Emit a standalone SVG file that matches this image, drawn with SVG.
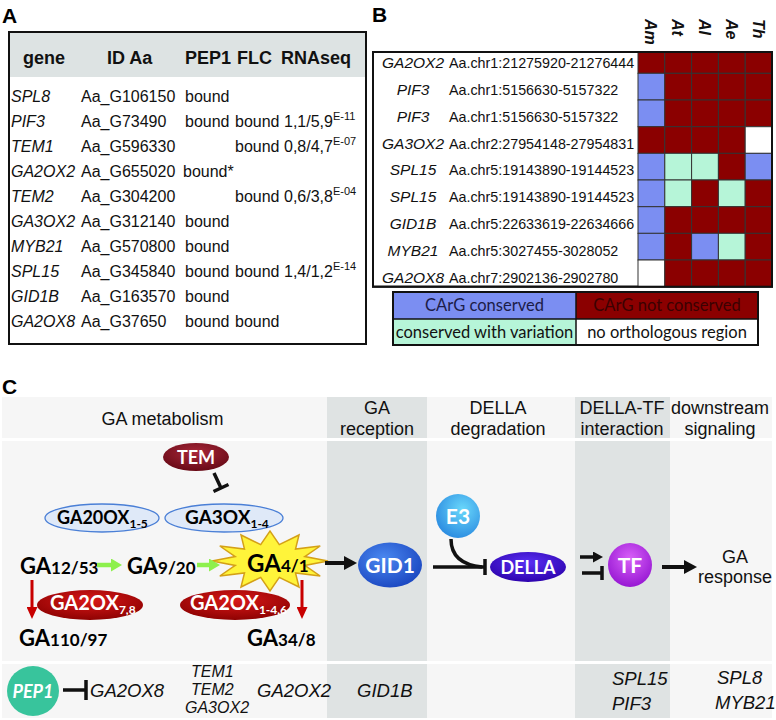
<svg xmlns="http://www.w3.org/2000/svg" width="776" height="720" viewBox="0 0 776 720">
<defs>
<radialGradient id="gTem" cx="50%" cy="35%" r="65%"><stop offset="0" stop-color="#a8283a"/><stop offset="1" stop-color="#680a16"/></radialGradient>
<radialGradient id="gRed" cx="50%" cy="35%" r="65%"><stop offset="0" stop-color="#d81818"/><stop offset="1" stop-color="#8e0202"/></radialGradient>
<radialGradient id="gGid" cx="40%" cy="35%" r="70%"><stop offset="0" stop-color="#4a88f0"/><stop offset="1" stop-color="#1a46c0"/></radialGradient>
<radialGradient id="gE3" cx="60%" cy="35%" r="70%"><stop offset="0" stop-color="#6ad8fb"/><stop offset="1" stop-color="#2a8ae0"/></radialGradient>
<radialGradient id="gDella" cx="50%" cy="35%" r="70%"><stop offset="0" stop-color="#5a30f4"/><stop offset="1" stop-color="#2a00a8"/></radialGradient>
<radialGradient id="gTf" cx="50%" cy="35%" r="70%"><stop offset="0" stop-color="#d860f8"/><stop offset="1" stop-color="#9212d0"/></radialGradient>
<marker id="ahK" markerUnits="userSpaceOnUse" markerWidth="13" markerHeight="14" viewBox="0 0 13 14" refX="1" refY="7" orient="auto"><path d="M0,0 L13,7 L0,14 z" fill="#111"/></marker>
<marker id="ahKs" markerUnits="userSpaceOnUse" markerWidth="10" markerHeight="11" viewBox="0 0 10 11" refX="1" refY="5.5" orient="auto"><path d="M0,0 L10,5.5 L0,11 z" fill="#111"/></marker>
<marker id="ahG" markerUnits="userSpaceOnUse" markerWidth="11" markerHeight="13" viewBox="0 0 11 13" refX="1" refY="6.5" orient="auto"><path d="M0,0 L11,6.5 L0,13 z" fill="#8df04d"/></marker>
<marker id="ahR" markerUnits="userSpaceOnUse" markerWidth="12" markerHeight="11" viewBox="0 0 12 11" refX="1" refY="5.5" orient="auto"><path d="M0,0 L12,5.5 L0,11 z" fill="#c80000"/></marker>
</defs>
<style>
.lab{font-family:"Liberation Sans",Arial,sans-serif;font-weight:bold;font-size:21px;fill:#000}
.th{font-family:"Liberation Sans",Arial,sans-serif;font-weight:bold;font-size:18px;fill:#111}
.td{font-family:"Liberation Sans",Arial,sans-serif;font-size:16px;fill:#111}
.gi{font-style:italic}
.sup{font-size:11px}
.bg{font-family:"Liberation Sans",Arial,sans-serif;font-size:15.5px;font-style:italic;text-anchor:middle;fill:#111}
.bc{font-family:"Liberation Sans",Arial,sans-serif;font-size:14.3px;fill:#111}
.sp{font-family:"Liberation Sans",Arial,sans-serif;font-size:16px;font-style:italic;font-weight:bold;fill:#111}
.cb{fill:#7b8ef2;stroke:#333;stroke-width:1}
.cr{fill:#8b0000;stroke:#333;stroke-width:1}
.cg{fill:#b6f5d8;stroke:#333;stroke-width:1}
.cw{fill:#fff;stroke:#333;stroke-width:1}
.lg{font-family:Lato,"Open Sans",sans-serif;font-size:16.5px;text-anchor:middle}
.hd{font-family:"Liberation Sans",Arial,sans-serif;font-size:18px;text-anchor:middle;fill:#111}
.lt{fill:#f6f6f6}
.dk{fill:#dfe3e3}
.nd{font-family:Lato,"Open Sans",sans-serif;font-weight:bold;fill:#fff}
.ga{font-family:Lato,"Open Sans",sans-serif;font-weight:bold;fill:#000}
.gb{font-size:22px}
.gn{font-size:17px}
.bt{font-family:"Liberation Sans",Arial,sans-serif;font-style:italic;font-size:18.5px;fill:#111}
.bts{font-size:16px}
.inh{stroke:#111;stroke-width:3.5;fill:none}
</style>
<rect width="776" height="720" fill="#fff"/>

<!-- Panel A -->
<g id="panelA">
<text class="lab" x="2" y="23">A</text>
<rect x="9" y="32" width="357" height="312" fill="#fff" stroke="#111" stroke-width="2"/>
<rect x="10" y="33" width="355" height="44" fill="#dde3e3"/>
<text class="th" x="23" y="63.5">gene</text>
<text class="th" x="107" y="63.5">ID Aa</text>
<text class="th" x="185" y="63.5">PEP1</text>
<text class="th" x="237" y="63.5">FLC</text>
<text class="th" x="281" y="63.5">RNAseq</text>
<g class="td">
<text x="11" y="102" class="gi">SPL8</text><text x="81" y="102">Aa_G106150</text><text x="185" y="102">bound</text>
<text x="11" y="127" class="gi">PIF3</text><text x="81" y="127">Aa_G73490</text><text x="185" y="127">bound</text><text x="235" y="127">bound</text><text x="284" y="127">1,1/5,9<tspan class="sup" dy="-7">E-11</tspan></text>
<text x="11" y="152" class="gi">TEM1</text><text x="81" y="152">Aa_G596330</text><text x="235" y="152">bound</text><text x="284" y="152">0,8/4,7<tspan class="sup" dy="-7">E-07</tspan></text>
<text x="11" y="177" class="gi">GA2OX2</text><text x="81" y="177">Aa_G655020</text><text x="183" y="177">bound*</text>
<text x="11" y="202" class="gi">TEM2</text><text x="81" y="202">Aa_G304200</text><text x="235" y="202">bound</text><text x="284" y="202">0,6/3,8<tspan class="sup" dy="-7">E-04</tspan></text>
<text x="11" y="227" class="gi">GA3OX2</text><text x="81" y="227">Aa_G312140</text><text x="185" y="227">bound</text>
<text x="11" y="252" class="gi">MYB21</text><text x="81" y="252">Aa_G570800</text><text x="185" y="252">bound</text>
<text x="11" y="277" class="gi">SPL15</text><text x="81" y="277">Aa_G345840</text><text x="185" y="277">bound</text><text x="235" y="277">bound</text><text x="284" y="277">1,4/1,2<tspan class="sup" dy="-7">E-14</tspan></text>
<text x="11" y="302" class="gi">GID1B</text><text x="81" y="302">Aa_G163570</text><text x="185" y="302">bound</text>
<text x="11" y="327" class="gi">GA2OX8</text><text x="81" y="327">Aa_G37650</text><text x="185" y="327">bound</text><text x="235" y="327">bound</text>
</g>
</g>

<!-- Panel B -->
<g id="panelB">
<text class="lab" x="372" y="22">B</text>
<g class="sp">
<text transform="translate(645,19) rotate(90)">Am</text>
<text transform="translate(672,19) rotate(90)">At</text>
<text transform="translate(699,19) rotate(90)">Al</text>
<text transform="translate(726,19) rotate(90)">Ae</text>
<text transform="translate(753,19) rotate(90)">Th</text>
</g>
<rect x="373" y="52" width="399" height="234.7" fill="#fff" stroke="#111" stroke-width="2"/>
<g id="grid">
<rect class="cr" x="638" y="52" width="26.8" height="21.3"/><rect class="cr" x="664.8" y="52" width="26.8" height="21.3"/><rect class="cr" x="691.6" y="52" width="26.8" height="21.3"/><rect class="cr" x="718.4" y="52" width="26.8" height="21.3"/><rect class="cr" x="745.2" y="52" width="26.8" height="21.3"/>
<rect class="cb" x="638" y="73.3" width="26.8" height="26.7"/><rect class="cr" x="664.8" y="73.3" width="26.8" height="26.7"/><rect class="cr" x="691.6" y="73.3" width="26.8" height="26.7"/><rect class="cr" x="718.4" y="73.3" width="26.8" height="26.7"/><rect class="cr" x="745.2" y="73.3" width="26.8" height="26.7"/>
<rect class="cb" x="638" y="100" width="26.8" height="26.7"/><rect class="cr" x="664.8" y="100" width="26.8" height="26.7"/><rect class="cr" x="691.6" y="100" width="26.8" height="26.7"/><rect class="cr" x="718.4" y="100" width="26.8" height="26.7"/><rect class="cr" x="745.2" y="100" width="26.8" height="26.7"/>
<rect class="cr" x="638" y="126.7" width="26.8" height="26.7"/><rect class="cr" x="664.8" y="126.7" width="26.8" height="26.7"/><rect class="cr" x="691.6" y="126.7" width="26.8" height="26.7"/><rect class="cr" x="718.4" y="126.7" width="26.8" height="26.7"/><rect class="cw" x="745.2" y="126.7" width="26.8" height="26.7"/>
<rect class="cb" x="638" y="153.3" width="26.8" height="26.7"/><rect class="cg" x="664.8" y="153.3" width="26.8" height="26.7"/><rect class="cg" x="691.6" y="153.3" width="26.8" height="26.7"/><rect class="cr" x="718.4" y="153.3" width="26.8" height="26.7"/><rect class="cb" x="745.2" y="153.3" width="26.8" height="26.7"/>
<rect class="cb" x="638" y="180" width="26.8" height="26.7"/><rect class="cg" x="664.8" y="180" width="26.8" height="26.7"/><rect class="cr" x="691.6" y="180" width="26.8" height="26.7"/><rect class="cg" x="718.4" y="180" width="26.8" height="26.7"/><rect class="cr" x="745.2" y="180" width="26.8" height="26.7"/>
<rect class="cb" x="638" y="206.7" width="26.8" height="26.7"/><rect class="cr" x="664.8" y="206.7" width="26.8" height="26.7"/><rect class="cr" x="691.6" y="206.7" width="26.8" height="26.7"/><rect class="cr" x="718.4" y="206.7" width="26.8" height="26.7"/><rect class="cr" x="745.2" y="206.7" width="26.8" height="26.7"/>
<rect class="cb" x="638" y="233.3" width="26.8" height="26.7"/><rect class="cr" x="664.8" y="233.3" width="26.8" height="26.7"/><rect class="cb" x="691.6" y="233.3" width="26.8" height="26.7"/><rect class="cg" x="718.4" y="233.3" width="26.8" height="26.7"/><rect class="cr" x="745.2" y="233.3" width="26.8" height="26.7"/>
<rect class="cw" x="638" y="260" width="26.8" height="26.7"/><rect class="cr" x="664.8" y="260" width="26.8" height="26.7"/><rect class="cr" x="691.6" y="260" width="26.8" height="26.7"/><rect class="cr" x="718.4" y="260" width="26.8" height="26.7"/><rect class="cr" x="745.2" y="260" width="26.8" height="26.7"/>
</g>
<rect x="373" y="52" width="399" height="234.7" fill="none" stroke="#111" stroke-width="2"/>
<text class="bg" x="413" y="68.2">GA2OX2</text><text class="bc" x="449" y="68.2">Aa.chr1:21275920-21276444</text>
<text class="bg" x="413" y="95">PIF3</text><text class="bc" x="449" y="95">Aa.chr1:5156630-5157322</text>
<text class="bg" x="413" y="121.8">PIF3</text><text class="bc" x="449" y="121.8">Aa.chr1:5156630-5157322</text>
<text class="bg" x="413" y="148.6">GA3OX2</text><text class="bc" x="449" y="148.6">Aa.chr2:27954148-27954831</text>
<text class="bg" x="413" y="175.4">SPL15</text><text class="bc" x="449" y="175.4">Aa.chr5:19143890-19144523</text>
<text class="bg" x="413" y="202.2">SPL15</text><text class="bc" x="449" y="202.2">Aa.chr5:19143890-19144523</text>
<text class="bg" x="413" y="229">GID1B</text><text class="bc" x="449" y="229">Aa.chr5:22633619-22634666</text>
<text class="bg" x="413" y="255.8">MYB21</text><text class="bc" x="449" y="255.8">Aa.chr5:3027455-3028052</text>
<text class="bg" x="413" y="282.6">GA2OX8</text><text class="bc" x="449" y="282.6">Aa.chr7:2902136-2902780</text>
</g>

<g id="legend">
<rect x="393" y="292" width="183" height="27" fill="#7b8ef2"/>
<rect x="576" y="292" width="182" height="27" fill="#8b0000"/>
<rect x="393" y="319" width="183" height="26" fill="#b6f5d8"/>
<rect x="576" y="319" width="182" height="26" fill="#fff"/>
<rect x="393" y="292" width="365" height="53" fill="none" stroke="#111" stroke-width="2"/>
<line x1="393" y1="319" x2="758" y2="319" stroke="#111" stroke-width="1.5"/>
<line x1="576" y1="292" x2="576" y2="345" stroke="#111" stroke-width="1.5"/>
<text class="lg" x="484.5" y="311" fill="#1c1c48">CArG conserved</text>
<text class="lg" x="667" y="311" fill="#3a0202">CArG not conserved</text>
<text class="lg" x="484.5" y="338" fill="#111">conserved with variation</text>
<text class="lg" x="667" y="338" fill="#111">no orthologous region</text>
</g>

<!-- Panel C -->
<g id="panelC-bg">
<text class="lab" x="2" y="394">C</text>
<rect class="lt" x="2" y="397" width="325" height="41"/><rect class="dk" x="327" y="397" width="100" height="41"/><rect class="lt" x="427" y="397" width="148" height="41"/><rect class="dk" x="575" y="397" width="95" height="41"/><rect class="lt" x="670" y="397" width="102" height="41"/>
<rect class="lt" x="2" y="441" width="325" height="220"/><rect class="dk" x="327" y="441" width="100" height="220"/><rect class="lt" x="427" y="441" width="148" height="220"/><rect class="dk" x="575" y="441" width="95" height="220"/><rect class="lt" x="670" y="441" width="102" height="220"/>
<rect class="lt" x="2" y="664" width="325" height="54"/><rect class="dk" x="327" y="664" width="100" height="54"/><rect class="lt" x="427" y="664" width="148" height="54"/><rect class="dk" x="575" y="664" width="95" height="54"/><rect class="lt" x="670" y="664" width="102" height="54"/>
<text class="hd" x="162.5" y="425">GA metabolism</text>
<text class="hd" x="377" y="414">GA</text><text class="hd" x="377" y="435">reception</text>
<text class="hd" x="498" y="414">DELLA</text><text class="hd" x="498" y="435">degradation</text>
<text class="hd" x="622" y="414">DELLA-TF</text><text class="hd" x="622" y="435">interaction</text>
<text class="hd" x="720" y="414">downstream</text><text class="hd" x="720" y="435">signaling</text>
</g>

<g id="node-tem"><ellipse cx="196" cy="457" rx="33" ry="14" fill="url(#gTem)"/><text class="nd" x="196" y="463.5" font-size="18" text-anchor="middle">TEM</text></g>
<g id="node-ga20ox"><ellipse cx="102" cy="518" rx="57" ry="14" fill="#dfe9f8" stroke="#4a7fd6" stroke-width="1.3"/><text class="ga" x="57" y="524" font-size="18">GA20OX<tspan font-size="12" dy="4">1-5</tspan></text></g>
<g id="node-ga3ox"><ellipse cx="224" cy="518" rx="59" ry="14" fill="#dfe9f8" stroke="#4a7fd6" stroke-width="1.3"/><text class="ga" x="185" y="524" font-size="19">GA3OX<tspan font-size="12" dy="4">1-4</tspan></text></g>
<g id="node-ga1253"><text class="ga" x="20" y="574"><tspan class="gb">GA</tspan><tspan class="gn">12/53</tspan></text></g>
<g id="node-ga920"><text class="ga" x="127" y="574"><tspan class="gb">GA</tspan><tspan class="gn">9/20</tspan></text></g>
<g id="node-ga41"><polygon points="328,561 304.8,565.4 320.2,576 295.5,573 299,587 279.3,577.4 270,591 260.7,577.4 241,587 244.5,573 219.8,576 235.2,565.4 212,561 235.2,556.6 219.8,546 244.5,549 241,535 260.7,544.6 270,531 279.3,544.6 299,535 295.5,549 320.2,546 304.8,556.6" fill="#fff43a" stroke="#d4a017" stroke-width="1.5" stroke-linejoin="miter"/><text class="ga" x="247" y="572"><tspan font-size="24">GA</tspan><tspan class="gn">4/1</tspan></text></g>
<g id="node-ga2ox78"><ellipse cx="90" cy="605" rx="53" ry="15" fill="url(#gRed)"/><text class="nd" x="50" y="610" font-size="20">GA2OX<tspan font-size="12" dy="4">7,8</tspan></text></g>
<g id="node-ga2ox146"><ellipse cx="235" cy="605" rx="55" ry="15" fill="url(#gRed)"/><text class="nd" x="190" y="610" font-size="20">GA2OX<tspan font-size="12" dy="4">1-4,6</tspan></text></g>
<g id="node-ga11097"><text class="ga" x="19" y="646"><tspan class="gb">GA</tspan><tspan class="gn">110/97</tspan></text></g>
<g id="node-ga348"><text class="ga" x="247" y="646"><tspan class="gb">GA</tspan><tspan class="gn">34/8</tspan></text></g>
<g id="node-gid1"><ellipse cx="390" cy="565" rx="32" ry="22.5" fill="url(#gGid)"/><text class="nd" x="390" y="572.5" font-size="21" text-anchor="middle">GID1</text></g>
<g id="node-e3"><circle cx="458" cy="516" r="22" fill="url(#gE3)"/><text class="nd" x="458" y="523.5" font-size="21" text-anchor="middle">E3</text></g>
<g id="node-della"><ellipse cx="528" cy="567" rx="38" ry="15" fill="url(#gDella)"/><text class="nd" x="528" y="573.5" font-size="18" text-anchor="middle">DELLA</text></g>
<g id="node-tf"><circle cx="630" cy="565" r="22" fill="url(#gTf)"/><text class="nd" x="630" y="572.5" font-size="21" text-anchor="middle">TF</text></g>
<g id="node-response"><text class="hd" x="735" y="563">GA</text><text class="hd" x="735" y="583">response</text></g>

<g id="node-pep1"><ellipse cx="33" cy="691" rx="26" ry="25" fill="#38c49c"/><text class="nd" x="33" y="697.5" font-size="18" font-style="italic" text-anchor="middle">PEP1</text></g>
<g id="genes-bottom" class="bt">
<text x="90" y="696.5">GA2OX8</text>
<text x="191" y="677" class="bts">TEM1</text>
<text x="191" y="695" class="bts">TEM2</text>
<text x="185" y="713" class="bts">GA3OX2</text>
<text x="257" y="696.5">GA2OX2</text>
<text x="357" y="696.5">GID1B</text>
<text x="612" y="684.5">SPL15</text>
<text x="612" y="709.5">PIF3</text>
<text x="717" y="683.5">SPL8</text>
<text x="715" y="708.5">MYB21</text>
</g>

<g id="connectors">
<line x1="97" y1="565" x2="112" y2="565" stroke="#8df04d" stroke-width="4.5" marker-end="url(#ahG)"/>
<line x1="197" y1="565" x2="210" y2="565" stroke="#8df04d" stroke-width="4.5" marker-end="url(#ahG)"/>
<line x1="32" y1="580" x2="32" y2="608" stroke="#c80000" stroke-width="3" marker-end="url(#ahR)"/>
<line x1="302" y1="580" x2="302" y2="608" stroke="#c80000" stroke-width="3" marker-end="url(#ahR)"/>
<line x1="325" y1="563" x2="345" y2="563" stroke="#111" stroke-width="4" marker-end="url(#ahK)"/>
<line x1="662" y1="567" x2="685" y2="567" stroke="#111" stroke-width="4" marker-end="url(#ahK)"/>
<line x1="580" y1="557" x2="594" y2="557" stroke="#111" stroke-width="3.5" marker-end="url(#ahKs)"/>
<path class="inh" d="M582,573 H601 M602,566 V580"/>
<path class="inh" d="M433,567 H485 M485,559 V575"/>
<path class="inh" d="M451,539 C451,556 462,565 482,567"/>
<path class="inh" d="M214,473 L221,488 M213.5,491.5 L228.5,484.5"/>
<path class="inh" d="M63,690 H85 M86,680 V700"/>
</g>
</svg>
